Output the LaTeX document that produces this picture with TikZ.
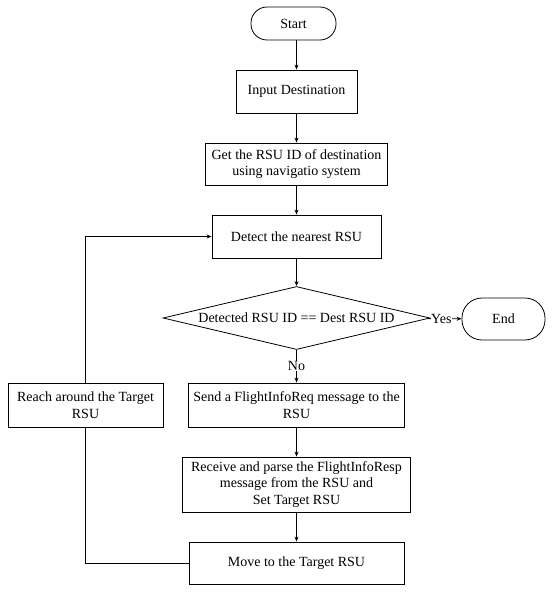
\documentclass[tikz,border=0pt]{standalone}
\usepackage{fontspec}
\setmainfont{Liberation Serif}
\usetikzlibrary{shapes.geometric,arrows.meta}
\begin{document}
\begin{tikzpicture}[x=1pt,y=1pt,
  every node/.style={font=\fontsize{14}{16.7}\selectfont},
  box/.style={draw,line width=0.8pt,rectangle,align=center,inner sep=1pt},
  term/.style={draw,line width=0.8pt,rectangle,rounded corners=16pt,inner sep=1pt},
  dec/.style={draw,line width=0.8pt,diamond,aspect=4.24,inner sep=0pt,minimum width=267pt,minimum height=63pt},
  conn/.style={line width=0.8pt,-{Stealth[length=5pt,width=4pt]}},
  plain/.style={line width=0.8pt},
  lab/.style={fill=white,inner sep=0.5pt}]
\useasboundingbox (0,0) rectangle (555,-594);
\node[term,minimum width=85pt,minimum height=33pt] (start) at (293.5,-23.5) {Start};
\node[box,minimum width=121pt,minimum height=43pt] (input) at (296.5,-91.5) {Input Destination};
\node[box,minimum width=182pt,minimum height=42pt] (getid) at (296.5,-164) {Get the RSU ID of destination\\using navigatio system};
\node[box,minimum width=169pt,minimum height=43pt] (detect) at (296.5,-236.5) {Detect the nearest RSU};
\node[dec] (decision) at (296.5,-318) {Detected RSU ID == Dest RSU ID};
\node[term,minimum width=83pt,minimum height=42pt,rounded corners=20pt] (end) at (503.5,-319) {End};
\node[box,minimum width=155pt,minimum height=44pt] (reach) at (85.5,-405) {Reach around the Target\\RSU};
\node[box,minimum width=216pt,minimum height=44pt] (send) at (296.5,-405) {Send a FlightInfoReq message to the\\RSU};
\node[box,minimum width=228pt,minimum height=55pt] (receive) at (296.5,-484.5) {Receive and parse the FlightInfoResp\\message from the RSU and\\Set Target RSU};
\node[box,minimum width=215pt,minimum height=42pt] (move) at (296.5,-563) {Move to the Target RSU};
\draw[conn] (start.south -| input.north) -- (input.north);
\draw[conn] (input) -- (getid);
\draw[conn] (getid) -- (detect);
\draw[conn] (detect) -- (decision);
\draw[conn] (decision) -- node[lab,pos=0.5] (nolab) {No} (send);
\draw[conn] (decision) -- node[lab,pos=0.4] (yeslab) {Yes} (end);
\draw[conn] (send) -- (receive);
\draw[conn] (receive) -- (move);
\draw[plain] (move.west) -| (reach.south);
\draw[conn] (reach.north) |- (detect.west);
\end{tikzpicture}
\end{document}
